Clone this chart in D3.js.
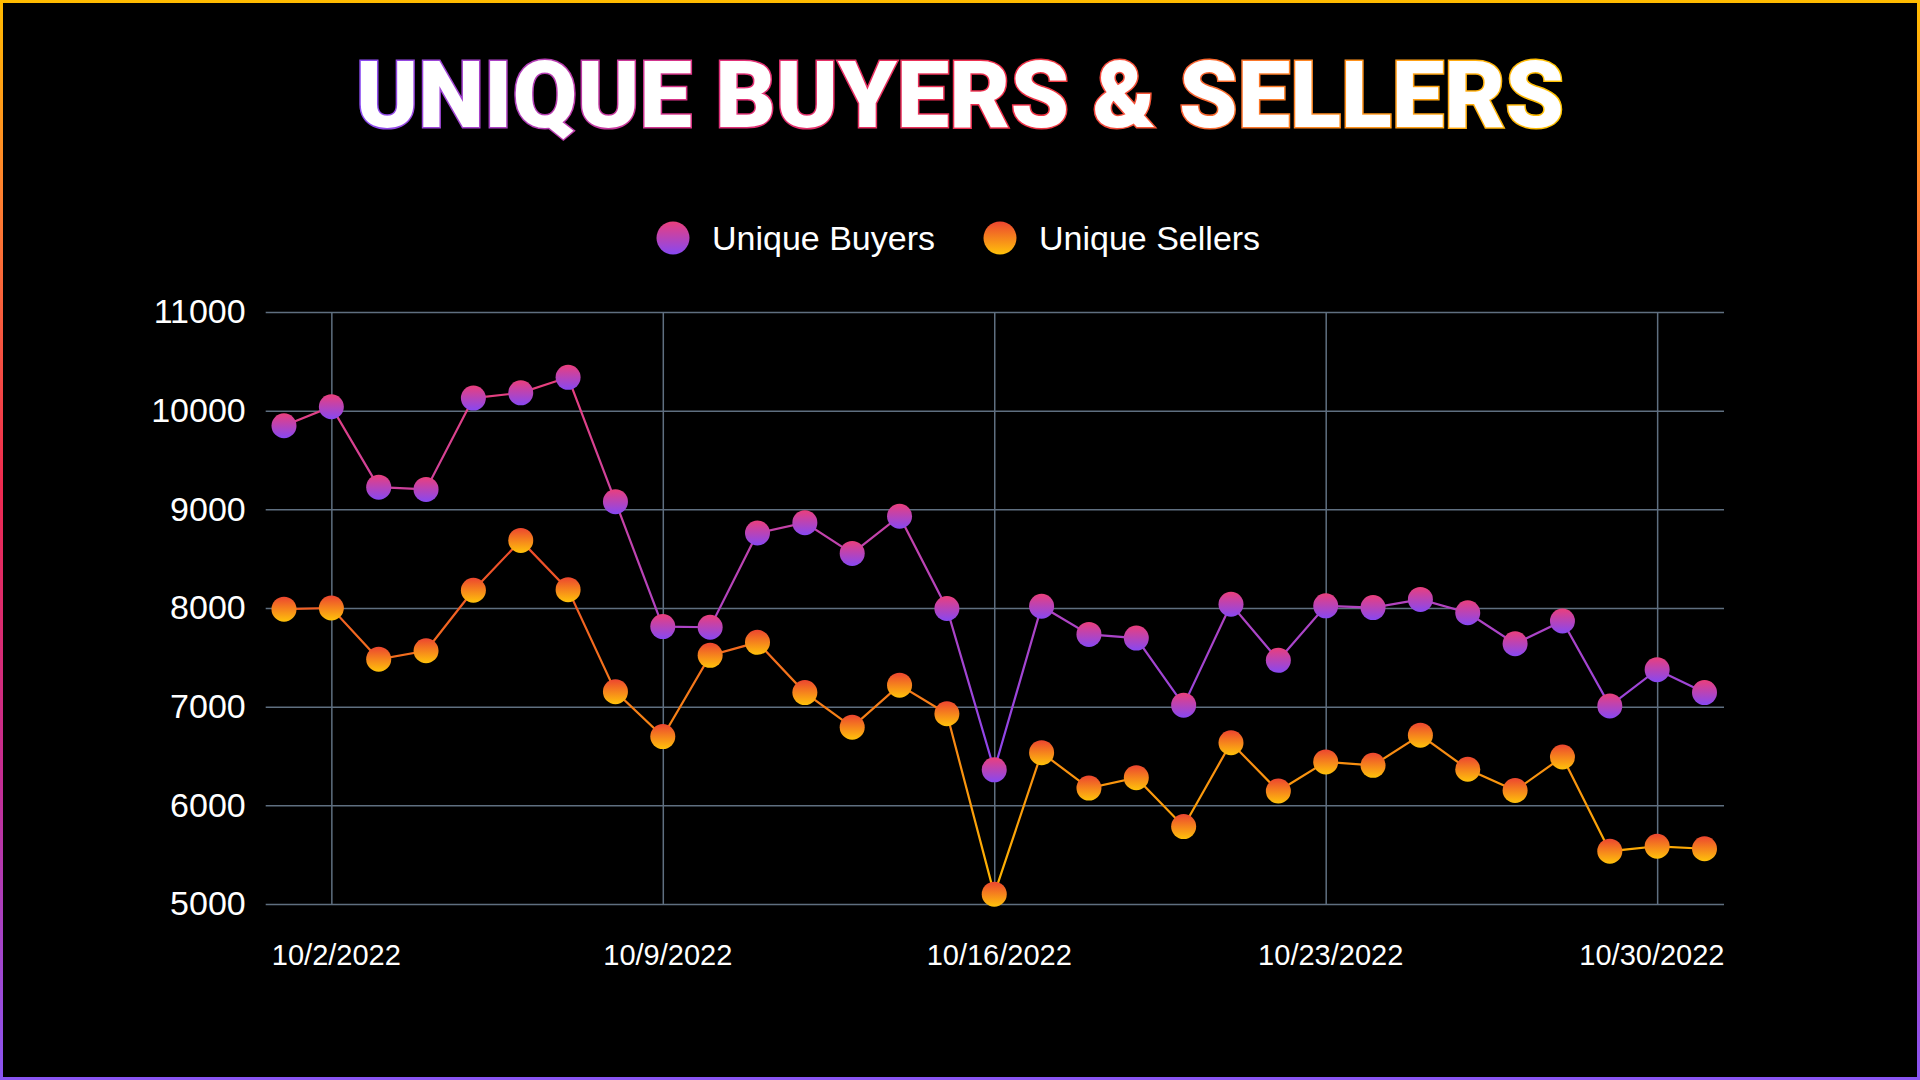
<!DOCTYPE html>
<html>
<head>
<meta charset="utf-8">
<script src="https://cdn.jsdelivr.net/npm/d3@7"></script>
<style>
  html, body { margin: 0; padding: 0; background: #000; }
  svg { display: block; }
</style>
</head>
<body>
<svg id="chart" width="1920" height="1080"></svg>
<script>
// ---------- DATA ----------
const titleText = "UNIQUE BUYERS & SELLERS";
const seriesNames = ["Unique Buyers", "Unique Sellers"];
const days = [1,2,3,4,5,6,7,8,9,10,11,12,13,14,15,16,17,18,19,20,21,22,23,24,25,26,27,28,29,30,31];
const buyers = [9847,10040,9225,9202,10128,10181,10338,9078,7812,7805,8760,8865,8553,8930,7995,6360,8018,7732,7695,7015,8038,7470,8022,8004,8087,7952,7638,7868,7008,7375,7143];
const sellers = [7988,8000,7481,7567,8180,8685,8186,7152,6697,7520,7652,7143,6792,7218,6928,5100,6534,6175,6280,5785,6634,6145,6440,6405,6711,6366,6150,6490,5535,5585,5560];
const yTicks = [5000,6000,7000,8000,9000,10000,11000];
const xTickDays = [2,9,16,23,30];

// ---------- LAYOUT ----------
const svg = d3.select("#chart");
const W = 1920, H = 1080;
const plot = { left: 265.7, right: 1724, top: 312, bottom: 904 };
const dates = days.map(d => new Date(2022, 9, d));

const x = d3.scaleTime()
  .domain([dates[0], dates[dates.length - 1]])
  .range([284, 1704.5]);
const y = d3.scaleLinear().domain([5000, 11000]).range([plot.bottom, plot.top]);

const defs = svg.append("defs");
function linGrad(id, attrs, stops) {
  const g = defs.append("linearGradient").attr("id", id);
  Object.entries(attrs).forEach(([k, v]) => g.attr(k, v));
  stops.forEach(([o, c]) => g.append("stop").attr("offset", o).attr("stop-color", c));
}
linGrad("borderGrad", { x1: 0, y1: 0, x2: 0, y2: 1 },
  [[0, "#ffbb00"], [0.18, "#ff8030"], [0.45, "#ee2a50"], [0.72, "#c42d92"], [1, "#8a55f2"]]);
linGrad("titleGrad", { gradientUnits: "userSpaceOnUse", x1: 356, y1: 0, x2: 1564, y2: 0 },
  [[0, "#8a4cf2"], [0.3, "#e0307a"], [0.55, "#f03048"], [0.8, "#ff8a20"], [1, "#ffc400"]]);
linGrad("buyDot", { x1: 0, y1: 0, x2: 0, y2: 1 }, [[0, "#ea3f7c"], [1, "#8748f2"]]);
linGrad("sellDot", { x1: 0, y1: 0, x2: 0, y2: 1 }, [[0, "#ec4530"], [1, "#ffc20a"]]);
linGrad("buyLine", { gradientUnits: "userSpaceOnUse", x1: 0, y1: y(d3.max(buyers)), x2: 0, y2: y(d3.min(buyers)) },
  [[0, "#e8407c"], [1, "#8a46f0"]]);
linGrad("sellLine", { gradientUnits: "userSpaceOnUse", x1: 0, y1: y(d3.max(sellers)), x2: 0, y2: y(d3.min(sellers)) },
  [[0, "#ee4a2c"], [1, "#ffb800"]]);

svg.append("rect").attr("width", W).attr("height", H).attr("fill", "#000");
svg.append("rect").attr("x", 1.5).attr("y", 1.5).attr("width", W - 3).attr("height", H - 3)
  .attr("fill", "none").attr("stroke", "url(#borderGrad)").attr("stroke-width", 3);

// title
svg.append("text")
  .attr("x", 960).attr("y", 127)
  .attr("text-anchor", "middle")
  .attr("textLength", 1208).attr("lengthAdjust", "spacingAndGlyphs")
  .style("font-family", "Roboto, 'Open Sans', sans-serif")
  .style("font-weight", 900)
  .style("font-size", "92px")
  .style("fill", "#fff")
  .style("stroke", "url(#titleGrad)")
  .style("stroke-width", 3)
  .style("paint-order", "stroke")
  .text(titleText);

// legend
const legendItems = [
  { name: seriesNames[0], grad: "buyDot", cx: 673, tx: 712 },
  { name: seriesNames[1], grad: "sellDot", cx: 1000, tx: 1039 }
];
const lg = svg.append("g");
legendItems.forEach(it => {
  lg.append("circle").attr("cx", it.cx).attr("cy", 238).attr("r", 16.5).attr("fill", `url(#${it.grad})`);
  lg.append("text").attr("x", it.tx).attr("y", 250)
    .style("font-family", "'Liberation Sans', Arial, sans-serif")
    .style("font-size", "34px").style("fill", "#fff").text(it.name);
});

// y axis with gridlines
const gridColor = "#5f6f80";
const yAxis = svg.append("g").attr("transform", `translate(${plot.left},0)`)
  .call(d3.axisLeft(y).tickValues(yTicks).tickFormat(d3.format("d"))
    .tickSize(-(plot.right - plot.left)).tickPadding(20));
yAxis.select(".domain").remove();
yAxis.selectAll(".tick line").attr("stroke", gridColor).attr("stroke-width", 1.5);
yAxis.selectAll(".tick text")
  .style("font-family", "'Liberation Sans', Arial, sans-serif")
  .style("font-size", "34px").attr("fill", "#fff");

// x axis with vertical gridlines
const xTickDates = xTickDays.map(d => new Date(2022, 9, d));
const fmt = d3.timeFormat("%-m/%-d/%Y");
const xAxis = svg.append("g").attr("transform", `translate(0,${plot.bottom})`)
  .call(d3.axisBottom(x).tickValues(xTickDates).tickFormat(fmt)
    .tickSize(-(plot.bottom - plot.top)).tickPadding(40));
xAxis.select(".domain").remove();
xAxis.selectAll(".tick line").attr("stroke", gridColor).attr("stroke-width", 1.5);
xAxis.selectAll(".tick text")
  .style("font-family", "'Liberation Sans', Arial, sans-serif")
  .style("font-size", "29px").attr("fill", "#fff");
xAxis.selectAll(".tick").each(function(d) {
  const t = d3.select(this).select("text");
  const bb = t.node().getBBox();
  const px = x(d);
  let shift = 4.5;
  const over = px + shift + bb.width / 2 - plot.right;
  if (over > 0) shift -= over;
  t.attr("x", shift);
});

// lines
const line = d3.line().x((d, i) => x(dates[i])).y(d => y(d));
svg.append("path").datum(buyers).attr("d", line)
  .attr("fill", "none").attr("stroke", "url(#buyLine)").attr("stroke-width", 2.2);
svg.append("path").datum(sellers).attr("d", line)
  .attr("fill", "none").attr("stroke", "url(#sellLine)").attr("stroke-width", 2.2);

// points
function dots(data, grad) {
  svg.append("g").selectAll("circle").data(data).join("circle")
    .attr("cx", (d, i) => x(dates[i])).attr("cy", d => y(d))
    .attr("r", 12.5).attr("fill", `url(#${grad})`);
}
dots(buyers, "buyDot");
dots(sellers, "sellDot");
</script>
</body>
</html>
